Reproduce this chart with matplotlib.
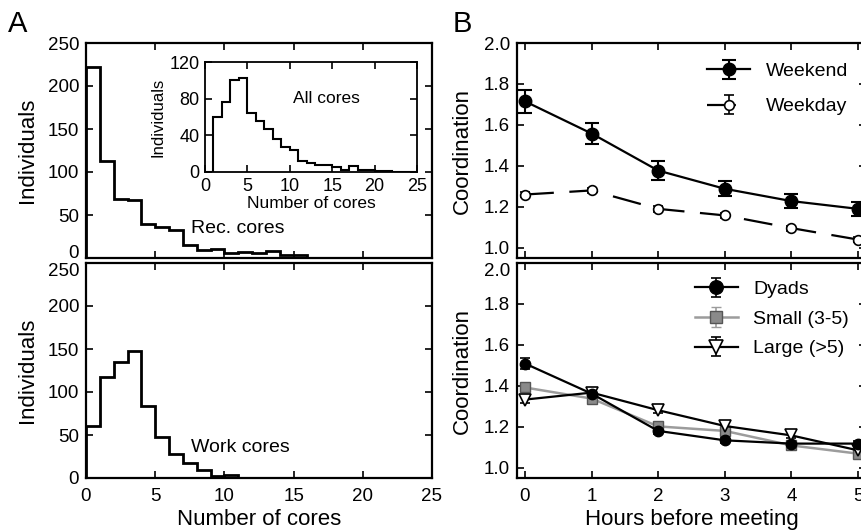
import numpy as np
import matplotlib
matplotlib.use('Agg')
import matplotlib.pyplot as plt

plt.rcParams['font.family'] = ['Liberation Sans', 'DejaVu Sans']

#### Data
# histograms, bins of width 1 starting at 0
rec_counts = [222, 113, 69, 67, 39, 36, 33, 15, 9, 11, 6, 7, 6, 8, 3, 3,
              0, 0, 0, 0, 0, 0, 0, 0, 0]
work_counts = [60, 118, 135, 148, 84, 48, 28, 17, 9, 2, 3,
               0, 0, 0, 0, 0, 0, 0, 0, 0, 0, 0, 0, 0, 0]
all_counts = [0, 60, 76, 100, 103, 64, 56, 47, 36, 27, 24, 12, 10, 8, 8,
              5, 2, 7, 2, 2, 1, 1, 0, 0, 0]

hours = [0, 1, 2, 3, 4, 5]
weekend = [1.715, 1.558, 1.377, 1.288, 1.228, 1.19]
weekend_err = [0.057, 0.049, 0.046, 0.037, 0.035, 0.035]
weekday = [1.26, 1.28, 1.19, 1.158, 1.096, 1.04]
weekday_err = [0.014, 0.013, 0.013, 0.013, 0.012, 0.013]

dyads = [1.509, 1.362, 1.18, 1.134, 1.118, 1.118]
dyads_err = [0.025, 0.016, 0.016, 0.015, 0.015, 0.015]
small = [1.392, 1.338, 1.202, 1.18, 1.109, 1.069]
small_err = [0.02, 0.016, 0.016, 0.015, 0.015, 0.015]
large = [1.333, 1.367, 1.281, 1.204, 1.158, 1.085]
large_err = [0.018, 0.016, 0.015, 0.015, 0.015, 0.015]

#### Figure & axes (pixel layout of an 862x531 image)
W, H = 862., 531.
fig = plt.figure(figsize=(8.62, 5.31), dpi=100, facecolor='white')
axA1 = fig.add_axes([86 / W, 273 / H, 346 / W, 215 / H])
axA2 = fig.add_axes([86 / W, 53 / H, 346 / W, 215 / H])
axB1 = fig.add_axes([517 / W, 273 / H, 349 / W, 215 / H])
axB2 = fig.add_axes([517 / W, 53 / H, 349 / W, 215 / H])
axin = fig.add_axes([205 / W, 359 / H, 212 / W, 110 / H])


def style(ax, lsize=13.5):
    for sp in ax.spines.values():
        sp.set_linewidth(1.6)
    ax.tick_params(direction='in', top=True, right=True, length=5,
                   width=1.2, labelsize=lsize)
    ax.tick_params(axis='y', pad=5)
    ax.tick_params(axis='x', pad=7)


#### Panel A: histograms
for ax, counts in ((axA1, rec_counts), (axA2, work_counts)):
    edges = np.arange(len(counts) + 1)
    ax.stairs(counts, edges, baseline=0, color='k', lw=2.0)
    ax.set_xlim(0, 25)
    ax.set_ylim(0, 250)
    ax.set_xticks([0, 5, 10, 15, 20, 25])
    ax.set_yticks([0, 50, 100, 150, 200, 250])
    style(ax)
    ax.set_ylabel('Individuals', fontsize=16, labelpad=7)

axA1.tick_params(labelbottom=False)
axA2.set_xlabel('Number of cores', fontsize=16, labelpad=3)
axA1.text(7.6, 34, 'Rec. cores', fontsize=14, va='center', ha='left')
axA2.text(7.6, 36, 'Work cores', fontsize=14, va='center', ha='left')

edges = np.arange(len(all_counts) + 1)
axin.stairs(all_counts, edges, baseline=0, color='k', lw=1.5)
axin.set_xlim(0, 25)
axin.set_ylim(0, 120)
axin.set_xticks([0, 5, 10, 15, 20, 25])
axin.set_yticks([0, 40, 80, 120])
style(axin, lsize=13)
for sp in axin.spines.values():
    sp.set_linewidth(1.3)
axin.tick_params(axis='x', pad=4)
axin.tick_params(axis='y', pad=4)
axin.set_xlabel('Number of cores', fontsize=12.5, labelpad=1)
axin.set_ylabel('Individuals', fontsize=12, labelpad=3)
axin.text(10.4, 80, 'All cores', fontsize=12.5, va='center', ha='left')

#### Panel B: coordination vs time
axB1.errorbar(hours, weekend, yerr=weekend_err, fmt='-o', color='k',
              mfc='k', mec='k', ms=9, lw=1.6, elinewidth=1.5,
              capsize=4.7, capthick=1.5, label='Weekend')
axB1.errorbar(hours, weekday, yerr=weekday_err, fmt='o', ls=(0, (13, 7)),
              color='k', mfc='white', mec='k', ms=7, mew=1.2, lw=1.6,
              elinewidth=1.2, capsize=3.5, capthick=1.2, label='Weekday')

axB2.errorbar(hours, small, yerr=small_err, fmt='-s', color='#9c9c9c',
              mfc='#8a8a8a', mec='#555555', ms=7, mew=1.0, lw=1.8,
              elinewidth=1.2, capsize=3.5, capthick=1.2, label='Small (3-5)')
axB2.errorbar(hours, large, yerr=large_err, fmt='-v', color='k',
              mfc='white', mec='k', ms=8, mew=1.2, lw=1.6,
              elinewidth=1.2, capsize=3.5, capthick=1.2, label='Large (>5)')
axB2.errorbar(hours, dyads, yerr=dyads_err, fmt='-o', color='k',
              mfc='k', mec='k', ms=7.5, lw=1.6,
              elinewidth=1.2, capsize=3.5, capthick=1.2, label='Dyads')

for ax in (axB1, axB2):
    ax.set_xlim(-0.12, 5.12)
    ax.set_ylim(0.95, 2.0)
    ax.set_xticks(hours)
    ax.set_yticks([1.0, 1.2, 1.4, 1.6, 1.8, 2.0])
    ax.set_yticklabels(['1.0', '1.2', '1.4', '1.6', '1.8', '2.0'])
    style(ax)
    ax.set_ylabel('Coordination', fontsize=16, labelpad=8)

axB1.tick_params(labelbottom=False)
axB2.set_xlabel('Hours before meeting', fontsize=16, labelpad=3)

axB1.legend(loc='upper left', bbox_to_anchor=(0.495, 0.99), frameon=False,
            fontsize=14, handlelength=2.2, handletextpad=0.8,
            labelspacing=0.9)
h, l = axB2.get_legend_handles_labels()
order = [2, 0, 1]
axB2.legend([h[i] for i in order], [l[i] for i in order],
            loc='upper left', bbox_to_anchor=(0.46, 1.0), frameon=False,
            fontsize=14, handlelength=2.2, handletextpad=0.8,
            labelspacing=0.62, markerscale=1.3)

# keep touching tick labels of stacked panels apart
fig.canvas.draw()
axA1.yaxis.get_major_ticks()[0].label1.set_verticalalignment('baseline')
axA2.yaxis.get_major_ticks()[-1].label1.set_verticalalignment('top')
axB2.yaxis.get_major_ticks()[-1].label1.set_verticalalignment('top')

#### Panel letters
fig.text(18 / W, 1 - 24 / H, 'A', fontsize=21, ha='center', va='center')
fig.text(462 / W, 1 - 24 / H, 'B', fontsize=21, ha='center', va='center')

fig.savefig('out.png', dpi=100, facecolor='white')
